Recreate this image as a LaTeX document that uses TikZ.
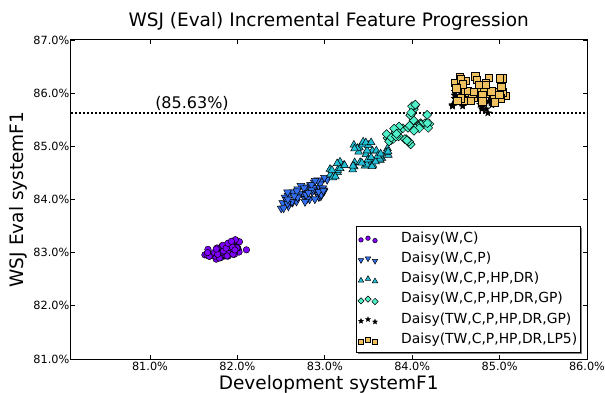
\documentclass[tikz,border=0pt]{standalone}
\usepackage{fontspec}
\setmainfont{DejaVu Sans}
\usetikzlibrary{shapes.geometric}

\definecolor{cPurple}{HTML}{7F00FF}
\definecolor{cBlue}{HTML}{3370F0}
\definecolor{cTeal}{HTML}{22BFD6}
\definecolor{cAqua}{HTML}{4DF0C8}
\definecolor{cSand}{HTML}{EEC060}

% scatter cloud: name prefix, style, count, centre x, centre y, axis a (x,y), axis b (x,y)
\newcommand\dotcloud[9]{%
  \foreach \k in {1,...,#3}{%
    \pgfmathsetmacro\uu{rand}%
    \pgfmathsetmacro\vv{rand}%
    \node[style=#2] (#1-\k) at ({#4+\uu*#6+\vv*#8},{#5+\uu*#7+\vv*#9}) {};
  }%
}

\tikzset{
  mk/.style={draw=black, line width=0.5pt, inner sep=0pt, outer sep=0pt},
  mkcirc/.style={mk, circle, fill=cPurple, minimum size=6.5pt},
  mkdown/.style={mk, regular polygon, regular polygon sides=3, shape border rotate=180, fill=cBlue, minimum size=9pt},
  mkup/.style={mk, regular polygon, regular polygon sides=3, fill=cTeal, minimum size=9pt},
  mkdiam/.style={mk, diamond, aspect=1, fill=cAqua, minimum size=9pt},
  mkstar/.style={mk, star, star points=5, star point ratio=2.3, fill=black, minimum size=7pt},
  mksq/.style={mk, rectangle, fill=cSand, minimum size=7.5pt},
  ticklab/.style={inner sep=0pt, font=\fontsize{11.3}{13}\selectfont},
  biglab/.style={inner sep=0pt, font=\fontsize{18.5}{22}\selectfont},
  lglab/.style={inner sep=0pt, font=\fontsize{13.9}{16}\selectfont},
}

\begin{document}
\begin{tikzpicture}[x=1pt, y=-1pt]
\useasboundingbox (0,0) rectangle (605,393);

% title and axis labels
\node[biglab, anchor=base] (title) at (328.7,27) {WSJ (Eval) Incremental Feature Progression};
\node[biglab, anchor=base] (xlabel) at (328.7,389) {Development systemF1};
\node[biglab, anchor=base, rotate=90] (ylabel) at (23.5,199.5) {WSJ Eval systemF1};

% reference line
\coordinate (ref-l) at (70.5,112.7);
\coordinate (ref-r) at (587,112.7);
\draw[line width=2pt, dash pattern=on 2pt off 2pt] (ref-l) -- (ref-r);
\node[inner sep=0pt, font=\fontsize{16}{19}\selectfont] (reflab) at (192,103) {(85.63\%)};

% data
\pgfmathsetseed{7}
\dotcloud{pa}{mkcirc}{60}{226}{250}{20}{-7}{6}{5}
\dotcloud{pb}{mkdown}{60}{305}{193}{22}{-7}{-5}{11}
\dotcloud{pc}{mkup}{28}{362}{155}{11}{-2}{1}{13}
\dotcloud{pcl}{mkup}{12}{337}{169}{8}{-3}{2}{7}
\dotcloud{pcr}{mkup}{12}{382}{155}{9}{-2}{0}{6}
\dotcloud{pd}{mkdiam}{35}{409}{128}{25}{-9}{2}{6}
\dotcloud{pdu}{mkdiam}{8}{413}{110}{1.5}{-7}{2}{0}
\dotcloud{pdl}{mkdiam}{6}{407}{141}{3}{5}{2}{0}
\dotcloud{pe}{mkstar}{16}{459}{99}{8}{0}{0}{8}
\dotcloud{per}{mkstar}{12}{486}{106}{6}{0}{1}{8}
\dotcloud{pf}{mksq}{45}{480}{89}{25}{0}{2}{14}

% axes frame
\coordinate (ax-nw) at (70.5,40);
\coordinate (ax-se) at (587,359);
\draw[line width=1pt] (ax-nw) rectangle (ax-se);

% ticks and tick labels
\foreach \v in {81,...,86}{
  \pgfmathsetmacro\xx{150+(\v-81)*87.4}
  \draw[line width=0.8pt] (\xx,359) -- ++(0,-4);
  \draw[line width=0.8pt] (\xx,40) -- ++(0,4);
  \node[ticklab, anchor=base] (xt-\v) at (\xx,370.5) {\v.0\%};
}
\foreach \v in {81,...,87}{
  \pgfmathsetmacro\yy{40+(87-\v)*53.17}
  \draw[line width=0.8pt] (70.5,\yy) -- ++(4,0);
  \draw[line width=0.8pt] (587,\yy) -- ++(-4,0);
  \node[ticklab, anchor=east] (yt-\v) at (69.5,\yy) {\v.0\%};
}

% legend
\coordinate (lg-nw) at (356,226);
\coordinate (lg-se) at (580,352);
\fill[black!50] ([shift={(2,2)}]lg-nw) rectangle ([shift={(2,2)}]lg-se);
\draw[fill=white, line width=0.8pt] (lg-nw) rectangle (lg-se);
\foreach \st/\lab [count=\i from 0] in {mkcirc/{Daisy(W,C)}, mkdown/{Daisy(W,C,P)}, mkup/{Daisy(W,C,P,HP,DR)}, mkdiam/{Daisy(W,C,P,HP,DR,GP)}, mkstar/{Daisy(TW,C,P,HP,DR,GP)}, mksq/{Daisy(TW,C,P,HP,DR,LP5)}}{
  \pgfmathsetmacro\yy{238.2+\i*20.3}
  \node[style=\st, scale=0.7] (lm-\i-a) at (361,\yy+1.7) {};
  \node[style=\st, scale=0.7] (lm-\i-b) at (368,\yy) {};
  \node[style=\st, scale=0.7] (lm-\i-c) at (375,\yy+2.4) {};
  \node[lglab, anchor=west] (lt-\i) at (401,\yy) {\lab};
}
\end{tikzpicture}
\end{document}
